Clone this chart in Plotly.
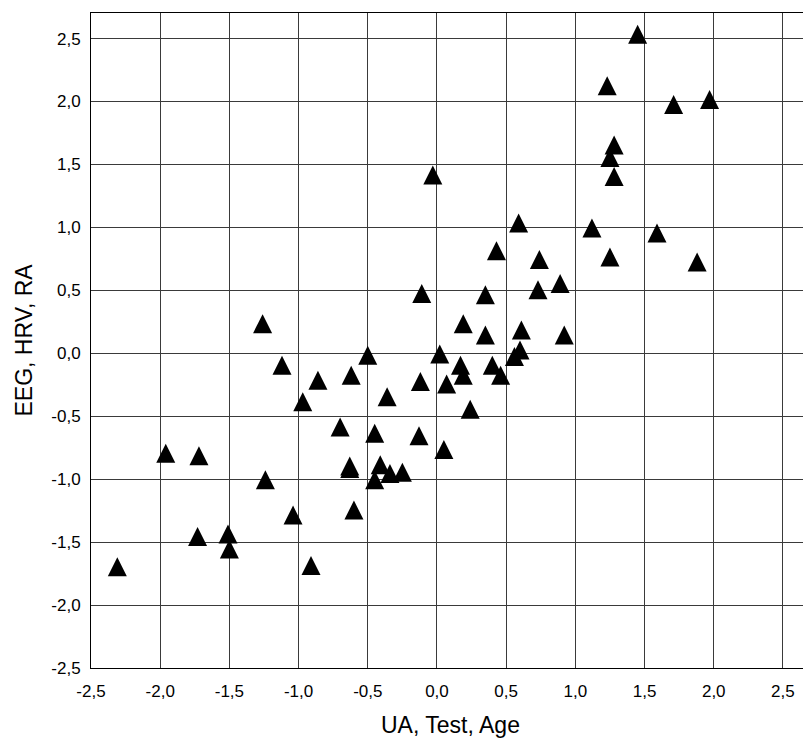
import plotly.graph_objects as go

# Standardised composite scores: x = UA, Test, Age; y = EEG, HRV, RA
ua_test_age = [
    1.45, 1.23, 1.71, 1.97, 1.28, 1.25, 1.28, 1.12, 1.59, 1.25,
    1.88, 0.59, 0.43, 0.74, 0.89, 0.73, -0.11, 0.35, 0.19, 0.61,
    0.92, 0.35, 0.02, 0.60, 0.56, 0.17, 0.19, 0.40, 0.46, 0.07,
    -0.12, 0.24, -0.13, 0.05, -0.25, -1.26, -1.12, -0.50, -0.86, -0.62,
    -0.97, -0.36, -0.70, -0.45, -0.63, -0.63, -0.41, -0.34, -0.45, -1.24,
    -1.96, -1.72, -1.04, -0.60, -1.73, -1.51, -1.50, -2.31, -0.91, -0.03,
]
eeg_hrv_ra = [
    2.51, 2.10, 1.95, 1.99, 1.63, 1.53, 1.38, 0.97, 0.93, 0.74,
    0.70, 1.01, 0.79, 0.72, 0.53, 0.48, 0.45, 0.44, 0.21, 0.16,
    0.12, 0.12, -0.03, 0.00, -0.05, -0.12, -0.20, -0.12, -0.20, -0.27,
    -0.25, -0.47, -0.68, -0.79, -0.97, 0.21, -0.12, -0.04, -0.24, -0.20,
    -0.41, -0.37, -0.61, -0.66, -0.92, -0.94, -0.91, -0.98, -1.03, -1.03,
    -0.82, -0.84, -1.31, -1.27, -1.48, -1.46, -1.58, -1.72, -1.71, 1.39,
]

tick_vals = [-2.5, -2.0, -1.5, -1.0, -0.5, 0.0, 0.5, 1.0, 1.5, 2.0, 2.5]
tick_text = ["-2,5", "-2,0", "-1,5", "-1,0", "-0,5", "0,0", "0,5", "1,0", "1,5", "2,0", "2,5"]

x_title = "UA, Test, Age"
y_title = "EEG, HRV, RA"

MARK = 19  # triangle width and height in px
FONT = "Liberation Sans, Arial, sans-serif"
GRID = "#3a3a3a"

fig = go.Figure(
    go.Scatter(
        x=ua_test_age,
        y=eeg_hrv_ra,
        mode="markers",
        # upright triangle of equal width and height, centroid on the point
        marker=dict(
            symbol="arrow-down",
            angle=180,
            standoff=MARK * 2 / 3,
            size=MARK,
            color="black",
            line=dict(width=0),
        ),
        hoverinfo="x+y",
    )
)

axis_common = dict(
    tickvals=tick_vals,
    ticktext=tick_text,
    showgrid=True,
    gridcolor=GRID,
    gridwidth=1,
    zeroline=False,
    showline=True,
    linecolor="black",
    linewidth=1,
    ticks="",
    tickfont=dict(family=FONT, size=17, color="black"),
)

fig.update_layout(
    width=803,
    height=738,
    margin=dict(l=91, r=0, t=13, b=70),
    paper_bgcolor="white",
    plot_bgcolor="white",
    showlegend=False,
    xaxis=dict(
        range=[-2.5, 2.645],
        mirror=True,
        ticklabelstandoff=8,
        **axis_common,
    ),
    yaxis=dict(
        range=[-2.5, 2.703],
        ticklabelstandoff=6,
        **axis_common,
    ),
    annotations=[
        dict(
            text=x_title,
            xref="paper", yref="paper",
            x=0.505, y=0,
            xanchor="center", yanchor="top",
            yshift=-42,
            showarrow=False,
            font=dict(family=FONT, size=23, color="black"),
        ),
        dict(
            text=y_title,
            xref="paper", yref="paper",
            x=0, y=0.5,
            xanchor="center", yanchor="middle",
            xshift=-68,
            textangle=-90,
            showarrow=False,
            font=dict(family=FONT, size=23, color="black"),
        ),
    ],
)

fig.write_html("out.html")
